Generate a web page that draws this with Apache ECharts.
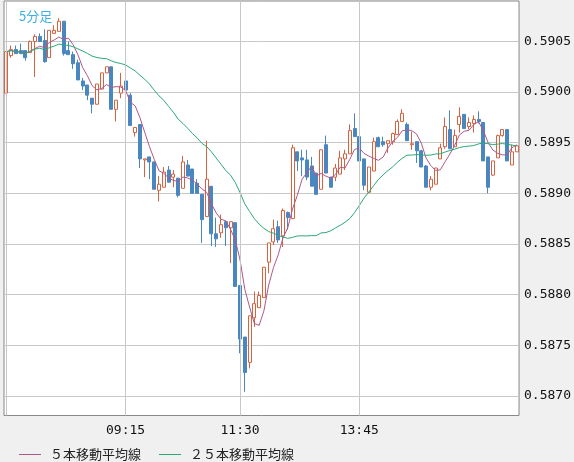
<!DOCTYPE html>
<html><head><meta charset="utf-8">
<script src="https://cdn.jsdelivr.net/npm/echarts@6/dist/echarts.min.js"></script>
<style>html,body{margin:0;padding:0;background:#f0f0f0}#c{width:574px;height:462px}</style>
</head><body><div id="c"></div>
<script>
var opens=[0.58999,0.59036,0.59042,0.59041,0.59041,0.59039,0.59050,0.59055,0.59051,0.59034,0.59058,0.59060,0.59070,0.59041,0.59037,0.59029,0.59011,0.59007,0.58994,0.58988,0.59003,0.59019,0.59025,0.58983,0.58999,0.59011,0.58997,0.58960,0.58968,0.58933,0.58936,0.58931,0.58903,0.58906,0.58923,0.58916,0.58915,0.58905,0.58928,0.58924,0.58910,0.58899,0.58877,0.58907,0.58860,0.58861,0.58872,0.58866,0.58871,0.58809,0.58758,0.58733,0.58777,0.58787,0.58797,0.58832,0.58852,0.58867,0.58858,0.58881,0.58875,0.58941,0.58935,0.58933,0.58927,0.58920,0.58904,0.58948,0.58916,0.58916,0.58919,0.58934,0.58939,0.58964,0.58956,0.58934,0.58901,0.58922,0.58955,0.58951,0.58949,0.58951,0.58958,0.58971,0.58968,0.58948,0.58951,0.58942,0.58927,0.58906,0.58909,0.58934,0.58946,0.58963,0.58946,0.58968,0.58978,0.58966,0.58969,0.58973,0.58970,0.58936,0.58918,0.58935,0.58957,0.58963,0.58928,0.58941];
var closes=[0.59040,0.59042,0.59038,0.59038,0.59034,0.59050,0.59055,0.59050,0.59030,0.59061,0.59061,0.59070,0.59038,0.59037,0.59028,0.59012,0.59006,0.58997,0.58988,0.59008,0.59019,0.59025,0.58983,0.58992,0.59006,0.59002,0.58967,0.58965,0.58934,0.58934,0.58931,0.58904,0.58909,0.58921,0.58911,0.58919,0.58898,0.58931,0.58917,0.58900,0.58900,0.58874,0.58914,0.58860,0.58855,0.58869,0.58866,0.58872,0.58808,0.58756,0.58723,0.58779,0.58791,0.58799,0.58827,0.58851,0.58865,0.58854,0.58883,0.58876,0.58945,0.58932,0.58933,0.58916,0.58907,0.58899,0.58943,0.58920,0.58906,0.58925,0.58935,0.58939,0.58962,0.58956,0.58932,0.58908,0.58926,0.58951,0.58946,0.58948,0.58952,0.58959,0.58971,0.58979,0.58952,0.58949,0.58942,0.58926,0.58906,0.58914,0.58925,0.58945,0.58966,0.58944,0.58957,0.58976,0.58964,0.58970,0.58973,0.58971,0.58932,0.58906,0.58932,0.58957,0.58963,0.58932,0.58941,0.58947];
var lows=[0.58999,0.59034,0.59038,0.59038,0.59031,0.59039,0.59015,0.59050,0.59029,0.59034,0.59058,0.59060,0.59036,0.59037,0.59023,0.59012,0.59002,0.58992,0.58979,0.58988,0.59003,0.59019,0.58983,0.58971,0.58994,0.58992,0.58967,0.58956,0.58925,0.58916,0.58914,0.58904,0.58892,0.58906,0.58911,0.58906,0.58896,0.58905,0.58917,0.58900,0.58900,0.58851,0.58877,0.58848,0.58847,0.58856,0.58848,0.58831,0.58808,0.58742,0.58704,0.58727,0.58768,0.58787,0.58797,0.58821,0.58849,0.58851,0.58847,0.58864,0.58875,0.58922,0.58917,0.58913,0.58907,0.58899,0.58904,0.58920,0.58906,0.58912,0.58919,0.58923,0.58939,0.58956,0.58931,0.58903,0.58901,0.58922,0.58946,0.58946,0.58940,0.58948,0.58958,0.58971,0.58952,0.58943,0.58930,0.58926,0.58906,0.58903,0.58909,0.58934,0.58944,0.58944,0.58946,0.58960,0.58964,0.58963,0.58960,0.58969,0.58932,0.58900,0.58917,0.58935,0.58956,0.58932,0.58928,0.58941];
var highs=[0.59040,0.59046,0.59046,0.59048,0.59041,0.59051,0.59057,0.59058,0.59062,0.59061,0.59066,0.59073,0.59070,0.59050,0.59040,0.59032,0.59014,0.59007,0.58994,0.59008,0.59019,0.59025,0.59025,0.58992,0.59019,0.59027,0.58999,0.58965,0.58968,0.58934,0.58936,0.58931,0.58917,0.58926,0.58927,0.58923,0.58915,0.58937,0.58933,0.58924,0.58914,0.58899,0.58952,0.58907,0.58876,0.58879,0.58873,0.58872,0.58871,0.58809,0.58758,0.58779,0.58803,0.58803,0.58827,0.58851,0.58874,0.58873,0.58885,0.58882,0.58948,0.58941,0.58943,0.58943,0.58936,0.58920,0.58943,0.58957,0.58916,0.58929,0.58942,0.58943,0.58968,0.58979,0.58956,0.58934,0.58926,0.58955,0.58956,0.58956,0.58952,0.58960,0.58973,0.58983,0.58970,0.58961,0.58951,0.58943,0.58928,0.58917,0.58925,0.58949,0.58975,0.58982,0.58963,0.58985,0.58978,0.58975,0.58977,0.58981,0.58970,0.58936,0.58932,0.58958,0.58963,0.58963,0.58948,0.58947];
var tickLabels={25:'09:15',49:'11:30',74:'13:45'};
var vGridIdx=[0,25,49,74];
var yTicks=[0.5870,0.5875,0.5880,0.5885,0.5890,0.5895,0.5900,0.5905];
var categories=opens.map(function(_,i){return String(i);});
var kdata=opens.map(function(o,i){return [o,closes[i],lows[i],highs[i]];});
function ma(n){return closes.map(function(_,i){var s=0,c=0;for(var j=Math.max(0,i-n+1);j<=i;j++){s+=closes[j];c++;}return +(s/c).toFixed(6);});}
var chart=echarts.init(document.getElementById('c'));
chart.setOption({
  backgroundColor:'#f0f0f0',animation:false,
  title:{text:'5分足',left:14,top:5,textStyle:{color:'#3cb0e6',fontSize:13,fontWeight:'normal',fontFamily:'Noto Sans CJK JP'}},
  legend:{left:14,top:443,itemWidth:22,itemHeight:1,itemGap:18,icon:'rect',
    textStyle:{fontSize:13,color:'#222',fontFamily:'Noto Sans CJK JP',padding:[0,0,0,4]},
    data:['５本移動平均線','２５本移動平均線']},
  grid:{left:4,right:52,top:1,bottom:46.5,show:true,backgroundColor:'#fff',borderColor:'#888',borderWidth:1},
  xAxis:{type:'category',data:categories,boundaryGap:true,
    axisLine:{show:false},axisTick:{show:false},splitLine:{show:false},
    axisLabel:{interval:0,margin:9,fontSize:13,color:'#111',fontFamily:'DejaVu Sans Mono',
      formatter:function(v,i){return tickLabels[i]||'';}}},
  yAxis:{type:'value',position:'right',min:0.586805,max:0.5909,scale:true,
    axisLine:{show:false},axisTick:{show:false,customValues:yTicks},
    axisLabel:{customValues:yTicks,margin:5,fontSize:13,color:'#111',fontFamily:'DejaVu Sans Mono',formatter:function(v){return v.toFixed(4);}},
    splitLine:{show:true,lineStyle:{color:'#c8c8c8',width:1}}},
  series:[
    {type:'candlestick',data:kdata,barWidth:3.5,
      itemStyle:{color:'#ffffff',color0:'#4a87c0',borderColor:'#d9623e',borderColor0:'#4a87c0',borderWidth:1},
      markLine:{silent:true,symbol:'none',label:{show:false},animation:false,
        lineStyle:{color:'#c8c8c8',type:'solid',width:1},
        data:vGridIdx.map(function(i){return {xAxis:String(i)};})},
      z:3},
    {name:'５本移動平均線',type:'line',data:ma(5),symbol:'none',lineStyle:{color:'#b0578a',width:1},itemStyle:{color:'#b0578a'},z:4},
    {name:'２５本移動平均線',type:'line',data:ma(25),symbol:'none',lineStyle:{color:'#2aa876',width:1},itemStyle:{color:'#2aa876'},z:4}
  ]
});
</script></body></html>
